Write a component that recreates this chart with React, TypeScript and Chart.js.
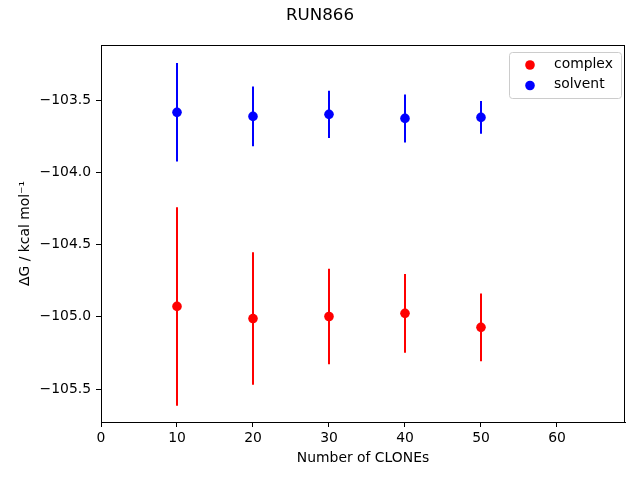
import React, { useEffect, useRef } from "react";
import { Chart, registerables } from "chart.js";

Chart.register(...registerables);

const clones = [10, 20, 30, 40, 50];
const complexMean = [-104.928, -105.012, -104.998, -104.976, -105.073];
const complexErr = [0.687, 0.459, 0.331, 0.273, 0.234];
const solventMean = [-103.585, -103.613, -103.599, -103.627, -103.62];
const solventErr = [0.341, 0.207, 0.163, 0.166, 0.114];
const xTicks = [0, 10, 20, 30, 40, 50, 60];
const yTicks = [-105.5, -105.0, -104.5, -104.0, -103.5];
const seriesNames = ["complex", "solvent"];
const seriesColors = ["#ff0000", "#0000ff"];
const titleText = "RUN866";
const xLabel = "Number of CLONEs";
const yLabel = "\u0394G / kcal mol\u207B\u00B9";

const FONT = "'DejaVu Sans', sans-serif";
const R = 4.8;

const decorPlugin = {
  id: "decor",
  beforeDatasetsDraw(chart: any) {
    const ctx = chart.ctx;
    const xs = chart.scales.x;
    const ys = chart.scales.y;
    const sets = [
      { m: complexMean, e: complexErr, c: seriesColors[0] },
      { m: solventMean, e: solventErr, c: seriesColors[1] },
    ];
    ctx.save();
    ctx.lineWidth = 2;
    for (const s of sets) {
      ctx.strokeStyle = s.c;
      for (let i = 0; i < clones.length; i++) {
        const px = Math.round(xs.getPixelForValue(clones[i]));
        const y1 = ys.getPixelForValue(s.m[i] + s.e[i]);
        const y2 = ys.getPixelForValue(s.m[i] - s.e[i]);
        ctx.beginPath();
        ctx.moveTo(px, y1);
        ctx.lineTo(px, y2);
        ctx.stroke();
      }
    }
    ctx.restore();
  },
  afterDraw(chart: any) {
    const ctx = chart.ctx;
    const a = chart.chartArea;
    ctx.save();
    ctx.strokeStyle = "#000";
    ctx.lineWidth = 1;
    ctx.strokeRect(Math.round(a.left) + 0.5, Math.round(a.top) + 0.5, Math.round(a.right - a.left) - 1, Math.round(a.bottom - a.top));
    ctx.fillStyle = "#000";
    ctx.font = `16.7px ${FONT}`;
    ctx.textAlign = "center";
    ctx.textBaseline = "middle";
    ctx.fillText(titleText, 320, 16);
    ctx.font = `13.9px ${FONT}`;
    ctx.fillText(xLabel, (a.left + a.right) / 2, 458);
    ctx.save();
    ctx.translate(25, (a.top + a.bottom) / 2);
    ctx.rotate(-Math.PI / 2);
    ctx.fillText(yLabel, 0, 0);
    ctx.restore();
    const lx = 509, ly = 52, lw = 112, lh = 46;
    ctx.beginPath();
    ctx.roundRect(lx + 0.5, ly + 0.5, lw, lh, 3);
    ctx.fillStyle = "rgba(255,255,255,0.8)";
    ctx.fill();
    ctx.strokeStyle = "#cccccc";
    ctx.lineWidth = 1;
    ctx.stroke();
    ctx.textAlign = "left";
    ctx.textBaseline = "middle";
    ctx.font = `13.9px ${FONT}`;
    for (let i = 0; i < seriesNames.length; i++) {
      const cy = 65 + i * 20.5;
      ctx.beginPath();
      ctx.arc(530, cy, R, 0, Math.PI * 2);
      ctx.fillStyle = seriesColors[i];
      ctx.fill();
      ctx.fillStyle = "#000";
      ctx.fillText(seriesNames[i], 554, cy - 1);
    }
    ctx.restore();
  },
};

export default function App() {
  const ref = useRef<HTMLCanvasElement | null>(null);
  useEffect(() => {
    if (!ref.current) return;
    const tickFont = { family: FONT, size: 13.9 };
    const chart = new Chart(ref.current, {
      type: "scatter",
      data: {
        datasets: [
          {
            label: seriesNames[0],
            data: clones.map((x, i) => ({ x, y: complexMean[i] })),
            backgroundColor: seriesColors[0],
            borderWidth: 0,
            pointRadius: R,
          },
          {
            label: seriesNames[1],
            data: clones.map((x, i) => ({ x, y: solventMean[i] })),
            backgroundColor: seriesColors[1],
            borderWidth: 0,
            pointRadius: R,
          },
        ],
      },
      options: {
        responsive: false,
        animation: false,
        layout: { padding: { left: 0, right: 15, top: 45, bottom: 0 } },
        plugins: { legend: { display: false }, tooltip: { enabled: false }, title: { display: false } },
        scales: {
          x: {
            type: "linear",
            min: 0,
            max: 68.95,
            afterBuildTicks: (axis: any) => {
              axis.ticks = xTicks.map((v) => ({ value: v }));
            },
            afterFit: (axis: any) => {
              axis.height = 58;
            },
            grid: { drawOnChartArea: false, drawTicks: true, tickLength: 5, tickColor: "#000" },
            border: { display: true, color: "#000" },
            ticks: { color: "#000", font: tickFont, padding: 3, maxRotation: 0, callback: (v: any) => String(v) },
          },
          y: {
            type: "linear",
            min: -105.728,
            max: -103.119,
            afterBuildTicks: (axis: any) => {
              axis.ticks = yTicks.map((v) => ({ value: v }));
            },
            afterFit: (axis: any) => {
              axis.width = 101;
            },
            grid: { drawOnChartArea: false, drawTicks: true, tickLength: 5, tickColor: "#000" },
            border: { display: true, color: "#000" },
            ticks: {
              color: "#000",
              font: tickFont,
              padding: 5,
              callback: (v: any) => (v < 0 ? "\u2212" : "") + Math.abs(Number(v)).toFixed(1),
            },
          },
        },
      },
      plugins: [decorPlugin],
    } as any);
    return () => chart.destroy();
  }, []);
  return (
    <div style={{ position: "fixed", left: 0, top: 0, width: 640, height: 480, background: "#fff" }}>
      <canvas ref={ref} width={640} height={480} style={{ display: "block" }} />
    </div>
  );
}
